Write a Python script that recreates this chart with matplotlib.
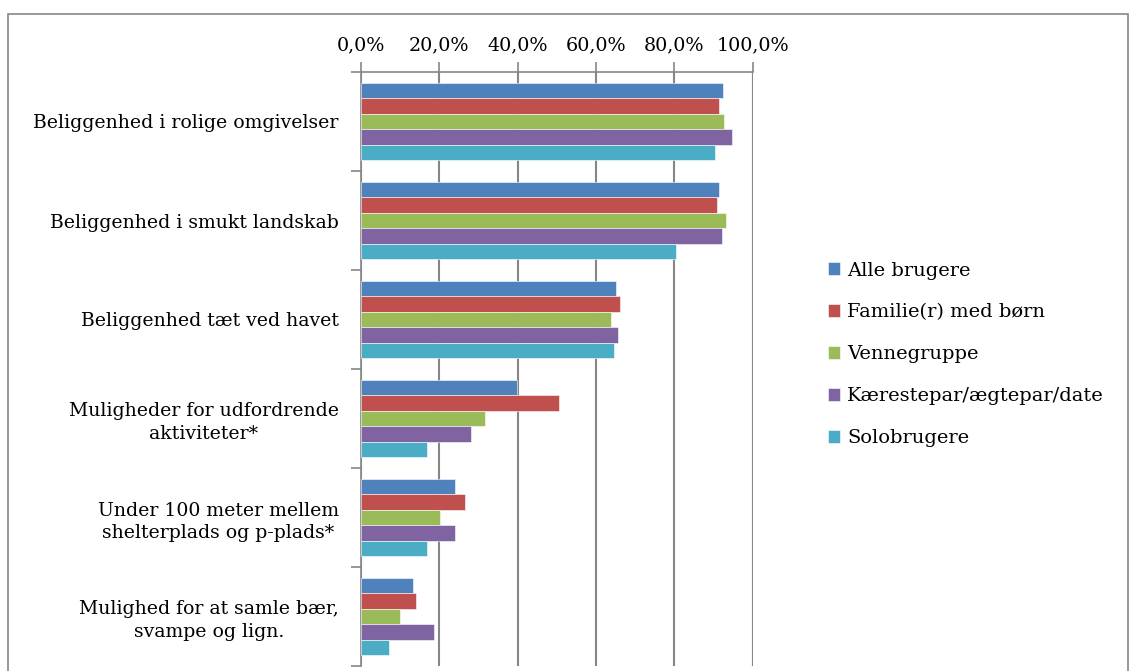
import matplotlib
matplotlib.use("Agg")
import matplotlib.pyplot as plt
from matplotlib.patches import Rectangle
from matplotlib.ticker import FixedLocator

categories = [
    "Beliggenhed i rolige omgivelser",
    "Beliggenhed i smukt landskab",
    "Beliggenhed tæt ved havet",
    "Muligheder for udfordrende\naktiviteter*",
    "Under 100 meter mellem\nshelterplads og p-plads*",
    "Mulighed for at samle bær,\nsvampe og lign.",
]
series_names = ["Alle brugere", "Familie(r) med børn", "Vennegruppe",
                "Kærestepar/ægtepar/date", "Solobrugere"]
alle = [92.4, 91.3, 65.1, 39.8, 24.0, 13.3]
familie = [91.4, 90.9, 66.0, 50.6, 26.6, 14.0]
venner = [92.8, 93.3, 63.7, 31.7, 20.2, 9.9]
kaerester = [94.6, 92.2, 65.5, 28.2, 24.1, 18.7]
solo = [90.3, 80.5, 64.5, 16.8, 16.8, 7.2]
colors = ["#4F81BD", "#C0504D", "#9BBB59", "#8064A2", "#4BACC6"]
x_ticks = [0, 20, 40, 60, 80, 100]
x_labels = ["0,0%", "20,0%", "40,0%", "60,0%", "80,0%", "100,0%"]

plt.rcParams["font.family"] = ["DejaVu Serif"]

fig = plt.figure(figsize=(11.3, 6.71), dpi=100)
ax = fig.add_axes([361 / 1130, 1 - 666 / 671, (752.7 - 361) / 1130, (666 - 72) / 671])

# outer chart border (bottom edge falls outside the picture)
fig.patches.append(Rectangle((8 / 1130, -0.05), 1120 / 1130, 1 - 14.5 / 671 + 0.05,
                             transform=fig.transFigure, fill=False,
                             edgecolor="#868686", linewidth=1.2))

bar_h = 0.155
all_series = [alle, familie, venner, kaerester, solo]
for j, (vals, name, c) in enumerate(zip(all_series, series_names, colors)):
    pos = [i - 2.5 * bar_h + (j + 0.5) * bar_h for i in range(len(categories))]
    ax.barh(pos, vals, height=bar_h, color=c, label=name, zorder=3,
            edgecolor="white", linewidth=0.4)

ax.set_xlim(0, 100)
ax.set_ylim(len(categories) - 0.5, -0.5)
ax.xaxis.tick_top()
ax.set_xticks(x_ticks)
ax.set_xticklabels(x_labels)
ax.tick_params(axis="x", direction="out", length=7, width=1.2, color="#868686",
               labelsize=13.8, pad=6)

ax.set_yticks(range(len(categories)))
ax.set_yticklabels(categories, multialignment="center", linespacing=1.35)
ax.yaxis.set_minor_locator(FixedLocator([i - 0.5 for i in range(len(categories) + 1)]))
ax.tick_params(axis="y", which="major", length=0, labelsize=13.6, pad=16)
ax.tick_params(axis="y", which="minor", direction="out", length=7, width=1.2,
               color="#868686")

ax.grid(axis="x", color="#868686", linewidth=1.5, zorder=0)
for s in ["right", "bottom"]:
    ax.spines[s].set_visible(False)
for s in ["left", "top"]:
    ax.spines[s].set_color("#868686")
    ax.spines[s].set_linewidth(1.2)
ax.axvline(100, color="#868686", linewidth=1.5, zorder=0)

fig.legend(loc="upper left", bbox_to_anchor=(810 / 1130, 1 - 244 / 671),
           frameon=False, fontsize=14, handlelength=0.65, handleheight=0.65,
           handletextpad=0.35, labelspacing=1.23)

fig.savefig("out.png", dpi=100)
